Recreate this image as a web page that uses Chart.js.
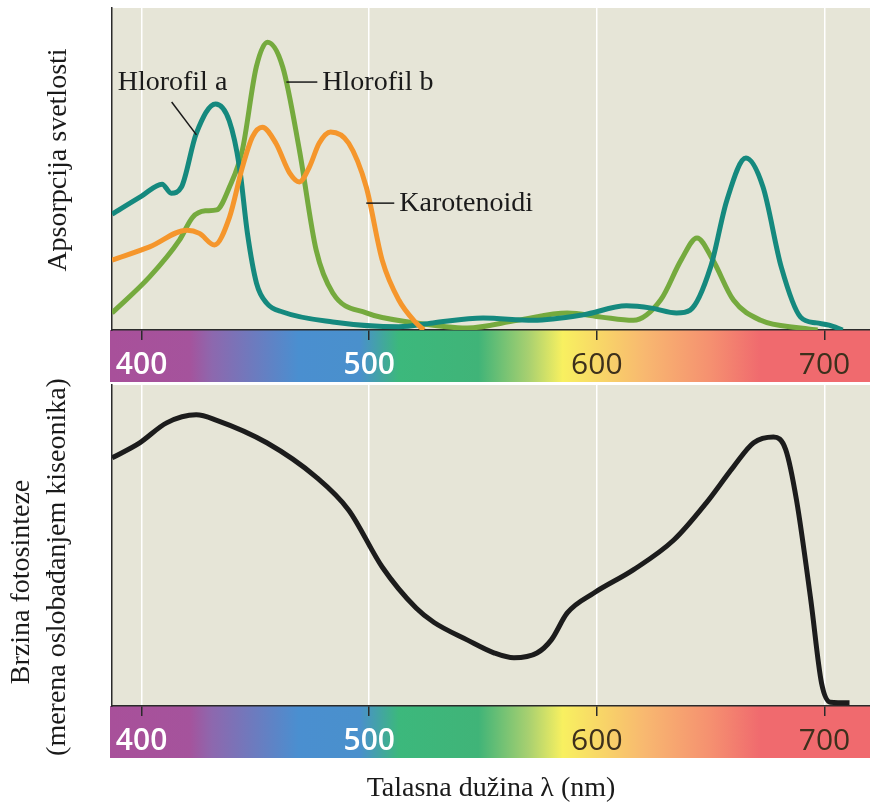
<!DOCTYPE html>
<html lang="sr">
<head>
<meta charset="UTF-8">
<title>Apsorpcija svetlosti i brzina fotosinteze</title>
<script src="https://cdn.jsdelivr.net/npm/chart.js"></script>
<style>
  body { margin: 0; background: #fff; }
  .panel { position: absolute; left: 0; width: 870px; }
  #topBox { top: 0; height: 385px; }
  #bottomBox { top: 345px; height: 465px; }
</style>
</head>
<body>
<div class="panel" id="topBox"><canvas id="absChart"></canvas></div>
<div class="panel" id="bottomBox"><canvas id="rateChart"></canvas></div>
<script>
// values (wavelength in nm, relative height 0-100)
const chlAWave = [387, 400, 409, 413, 417.5, 424, 432.5, 438.5, 443, 446.5, 450.5, 455, 462, 484, 513, 528, 550, 572, 594, 613, 624, 635, 641, 650, 657, 665.5, 673, 681, 689.5, 696.5, 702, 708];
const chlAVal  = [36, 41.6, 45.3, 42.5, 44.4, 61, 70.2, 65, 50.6, 30, 14.5, 8.3, 5.6, 2.5, 1, 2.2, 3.7, 3, 4.7, 7.5, 6.8, 5.3, 6.2, 19.6, 40, 53.4, 44.4, 19.6, 4, 2.2, 1.5, 0];

const chlBWave = [387, 403.5, 416.7, 422.4, 428, 433, 438.6, 444.3, 450.4, 455.3, 462, 469.3, 476.7, 484, 498.7, 520.6, 543, 565, 587, 602, 616, 628, 637, 644, 651, 660, 672, 689.5, 697];
const chlBVal  = [5.3, 16.5, 28, 35, 37, 37.3, 44.4, 56, 81.7, 89.4, 81.7, 56, 24.8, 11.5, 5.3, 2.2, 0.6, 3, 5.3, 4, 3, 9.3, 21.7, 28.6, 21.7, 9.3, 3, 0.6, 0];

const carWave = [387, 403.5, 420, 425.4, 432, 438.6, 444.3, 448.7, 453, 459, 465, 469.3, 473.7, 478, 483, 491, 498.7, 505.7, 513, 520.6, 524];
const carVal  = [21.7, 25.8, 31, 30, 26.4, 35, 50.6, 60, 63, 58, 48.8, 46, 50.6, 58, 61.5, 58, 44.4, 21.7, 9.3, 2.2, 0];

const rateWave = [387, 399, 411, 424, 433, 455, 476.7, 491, 505.7, 520.6, 528.5, 543, 555, 563.6, 573.7, 580, 587, 598.7, 616, 633.8, 648, 660, 668.9, 677.6, 683, 687.7, 694, 698.7, 702.6, 711];
const rateVal  = [77.3, 81.9, 88.2, 90.7, 89, 82, 71.3, 61, 43.3, 30.5, 26, 20.6, 16.5, 15, 16.5, 20.6, 29, 35.2, 42.4, 51.7, 63.2, 74.5, 82, 83.8, 79.8, 64.2, 33, 7.2, 1.2, 1];

const tickWaves = [400, 500, 600, 700];

// colour band under each panel
const specWave  = [387, 421, 431, 469, 496, 513, 548, 570, 585, 621, 650, 672, 720];
const specColor = ['#a8509a', '#a5539c', '#8d68ae', '#4a8fd0', '#4a90cc', '#3cb87c', '#40b478', '#a8d070', '#f8f060', '#f8b870', '#f59070', '#f06a6e', '#f06a6e'];

const serif = '"Liberation Serif", "Times New Roman", serif';
const pts = (xs, ys) => xs.map((x, i) => ({x: x, y: ys[i]}));

const panelBackground = {
  id: 'panelBackground',
  beforeDraw(chart) {
    const {ctx, chartArea: a, scales: {x}} = chart;
    ctx.save();
    ctx.fillStyle = '#e6e5d7';
    ctx.fillRect(a.left, a.top, a.right - a.left, a.bottom - a.top);
    const g = ctx.createLinearGradient(x.left, 0, x.right, 0);
    specWave.forEach((w, i) => {
      const p = (x.getPixelForValue(w) - x.left) / (x.right - x.left);
      g.addColorStop(Math.min(1, Math.max(0, p)), specColor[i]);
    });
    ctx.fillStyle = g;
    ctx.fillRect(a.left - 2, a.bottom, a.right - a.left + 2, 52);
    ctx.restore();
  }
};

function sideTitles(lines) {
  return {
    id: 'sideTitles',
    afterDraw(chart) {
      const ctx = chart.ctx;
      lines.forEach(l => {
        ctx.save();
        ctx.translate(l.x, l.y);
        ctx.rotate(-Math.PI / 2);
        ctx.font = '28px ' + serif;
        ctx.fillStyle = '#1a1a1a';
        ctx.textAlign = 'center';
        ctx.textBaseline = 'middle';
        ctx.fillText(l.text, 0, 0);
        ctx.restore();
      });
    }
  };
}

// labels placed in data coordinates, with a short leader line
function curveLabels(items) {
  return {
    id: 'curveLabels',
    afterDatasetsDraw(chart) {
      const {ctx, scales: {x, y}} = chart;
      ctx.save();
      ctx.strokeStyle = '#1a1a1a';
      ctx.lineWidth = 1.5;
      ctx.font = '28px ' + serif;
      ctx.fillStyle = '#1a1a1a';
      ctx.textAlign = 'left';
      ctx.textBaseline = 'middle';
      items.forEach(it => {
        ctx.beginPath();
        ctx.moveTo(x.getPixelForValue(it.lead[0]), y.getPixelForValue(it.lead[1]));
        ctx.lineTo(x.getPixelForValue(it.lead[2]), y.getPixelForValue(it.lead[3]));
        ctx.stroke();
        ctx.fillText(it.text, x.getPixelForValue(it.at[0]), y.getPixelForValue(it.at[1]));
      });
      ctx.restore();
    }
  };
}

function xAxis(title) {
  return {
    type: 'linear',
    min: 387,
    max: 720,
    afterBuildTicks: s => { s.ticks = tickWaves.map(v => ({value: v})); },
    afterFit: s => { s.height = title ? 104 : 52; },
    grid: { color: '#ffffff', lineWidth: 1.5, drawTicks: true, tickLength: 10, tickColor: '#2b2b2b', tickWidth: 1.5 },
    border: { display: true, color: '#2b2b2b', width: 1.5 },
    ticks: {
      padding: 7,
      maxRotation: 0,
      autoSkip: false,
      color: c => c.tick.value < 550 ? '#ffffff' : '#3d301c',
      font: c => ({ family: '"Open Sans", sans-serif', size: 30, weight: c.tick && c.tick.value < 550 ? '600' : '400' })
    },
    title: {
      display: !!title,
      text: title || '',
      color: '#1a1a1a',
      font: { family: serif, size: 28 },
      padding: { top: 0, bottom: 5 }
    }
  };
}

const yAxis = {
  min: 0,
  max: 100,
  afterFit: s => { s.width = 112; },
  ticks: { display: false },
  grid: { display: false, drawTicks: false },
  border: { display: true, color: '#2b2b2b', width: 1.5 }
};

const line = (label, data, color) => ({
  label: label,
  data: data,
  borderColor: color,
  borderWidth: 5,
  pointRadius: 0,
  fill: false,
  cubicInterpolationMode: 'monotone'
});

new Chart(document.getElementById('absChart'), {
  type: 'line',
  data: {
    datasets: [
      line('Karotenoidi', pts(carWave, carVal), '#f5962c'),
      line('Hlorofil a', pts(chlAWave, chlAVal), '#15897e'),
      line('Hlorofil b', pts(chlBWave, chlBVal), '#75aa3e')
    ]
  },
  options: {
    responsive: true,
    maintainAspectRatio: false,
    animation: false,
    layout: { padding: { top: 8, bottom: 3, left: 0, right: 0 } },
    plugins: { legend: { display: false }, tooltip: { enabled: false } },
    scales: { x: xAxis(null), y: yAxis }
  },
  plugins: [
    panelBackground,
    sideTitles([{ text: 'Apsorpcija svetlosti', x: 59, y: 160 }]),
    curveLabels([
      { text: 'Hlorofil a', at: [389.5, 76.7], lead: [413.2, 70.8, 424.1, 60.6] },
      { text: 'Hlorofil b', at: [479.4, 76.7], lead: [463.6, 77, 477.2, 77] },
      { text: 'Karotenoidi', at: [513.2, 39.1], lead: [498.7, 39.4, 511, 39.4] }
    ])
  ]
});

// bottom canvas starts 40px above its panel so the long side title is not cut
new Chart(document.getElementById('rateChart'), {
  type: 'line',
  data: {
    datasets: [line('Brzina fotosinteze', pts(rateWave, rateVal), '#1c1c1c')]
  },
  options: {
    responsive: true,
    maintainAspectRatio: false,
    animation: false,
    layout: { padding: { top: 40, bottom: 0, left: 0, right: 0 } },
    plugins: { legend: { display: false }, tooltip: { enabled: false } },
    scales: { x: xAxis('Talasna dužina λ (nm)'), y: yAxis }
  },
  plugins: [
    panelBackground,
    sideTitles([
      { text: 'Brzina fotosinteze', x: 22, y: 237 },
      { text: '(merena oslobađanjem kiseonika)', x: 58, y: 222 }
    ])
  ]
});
</script>
</body>
</html>
